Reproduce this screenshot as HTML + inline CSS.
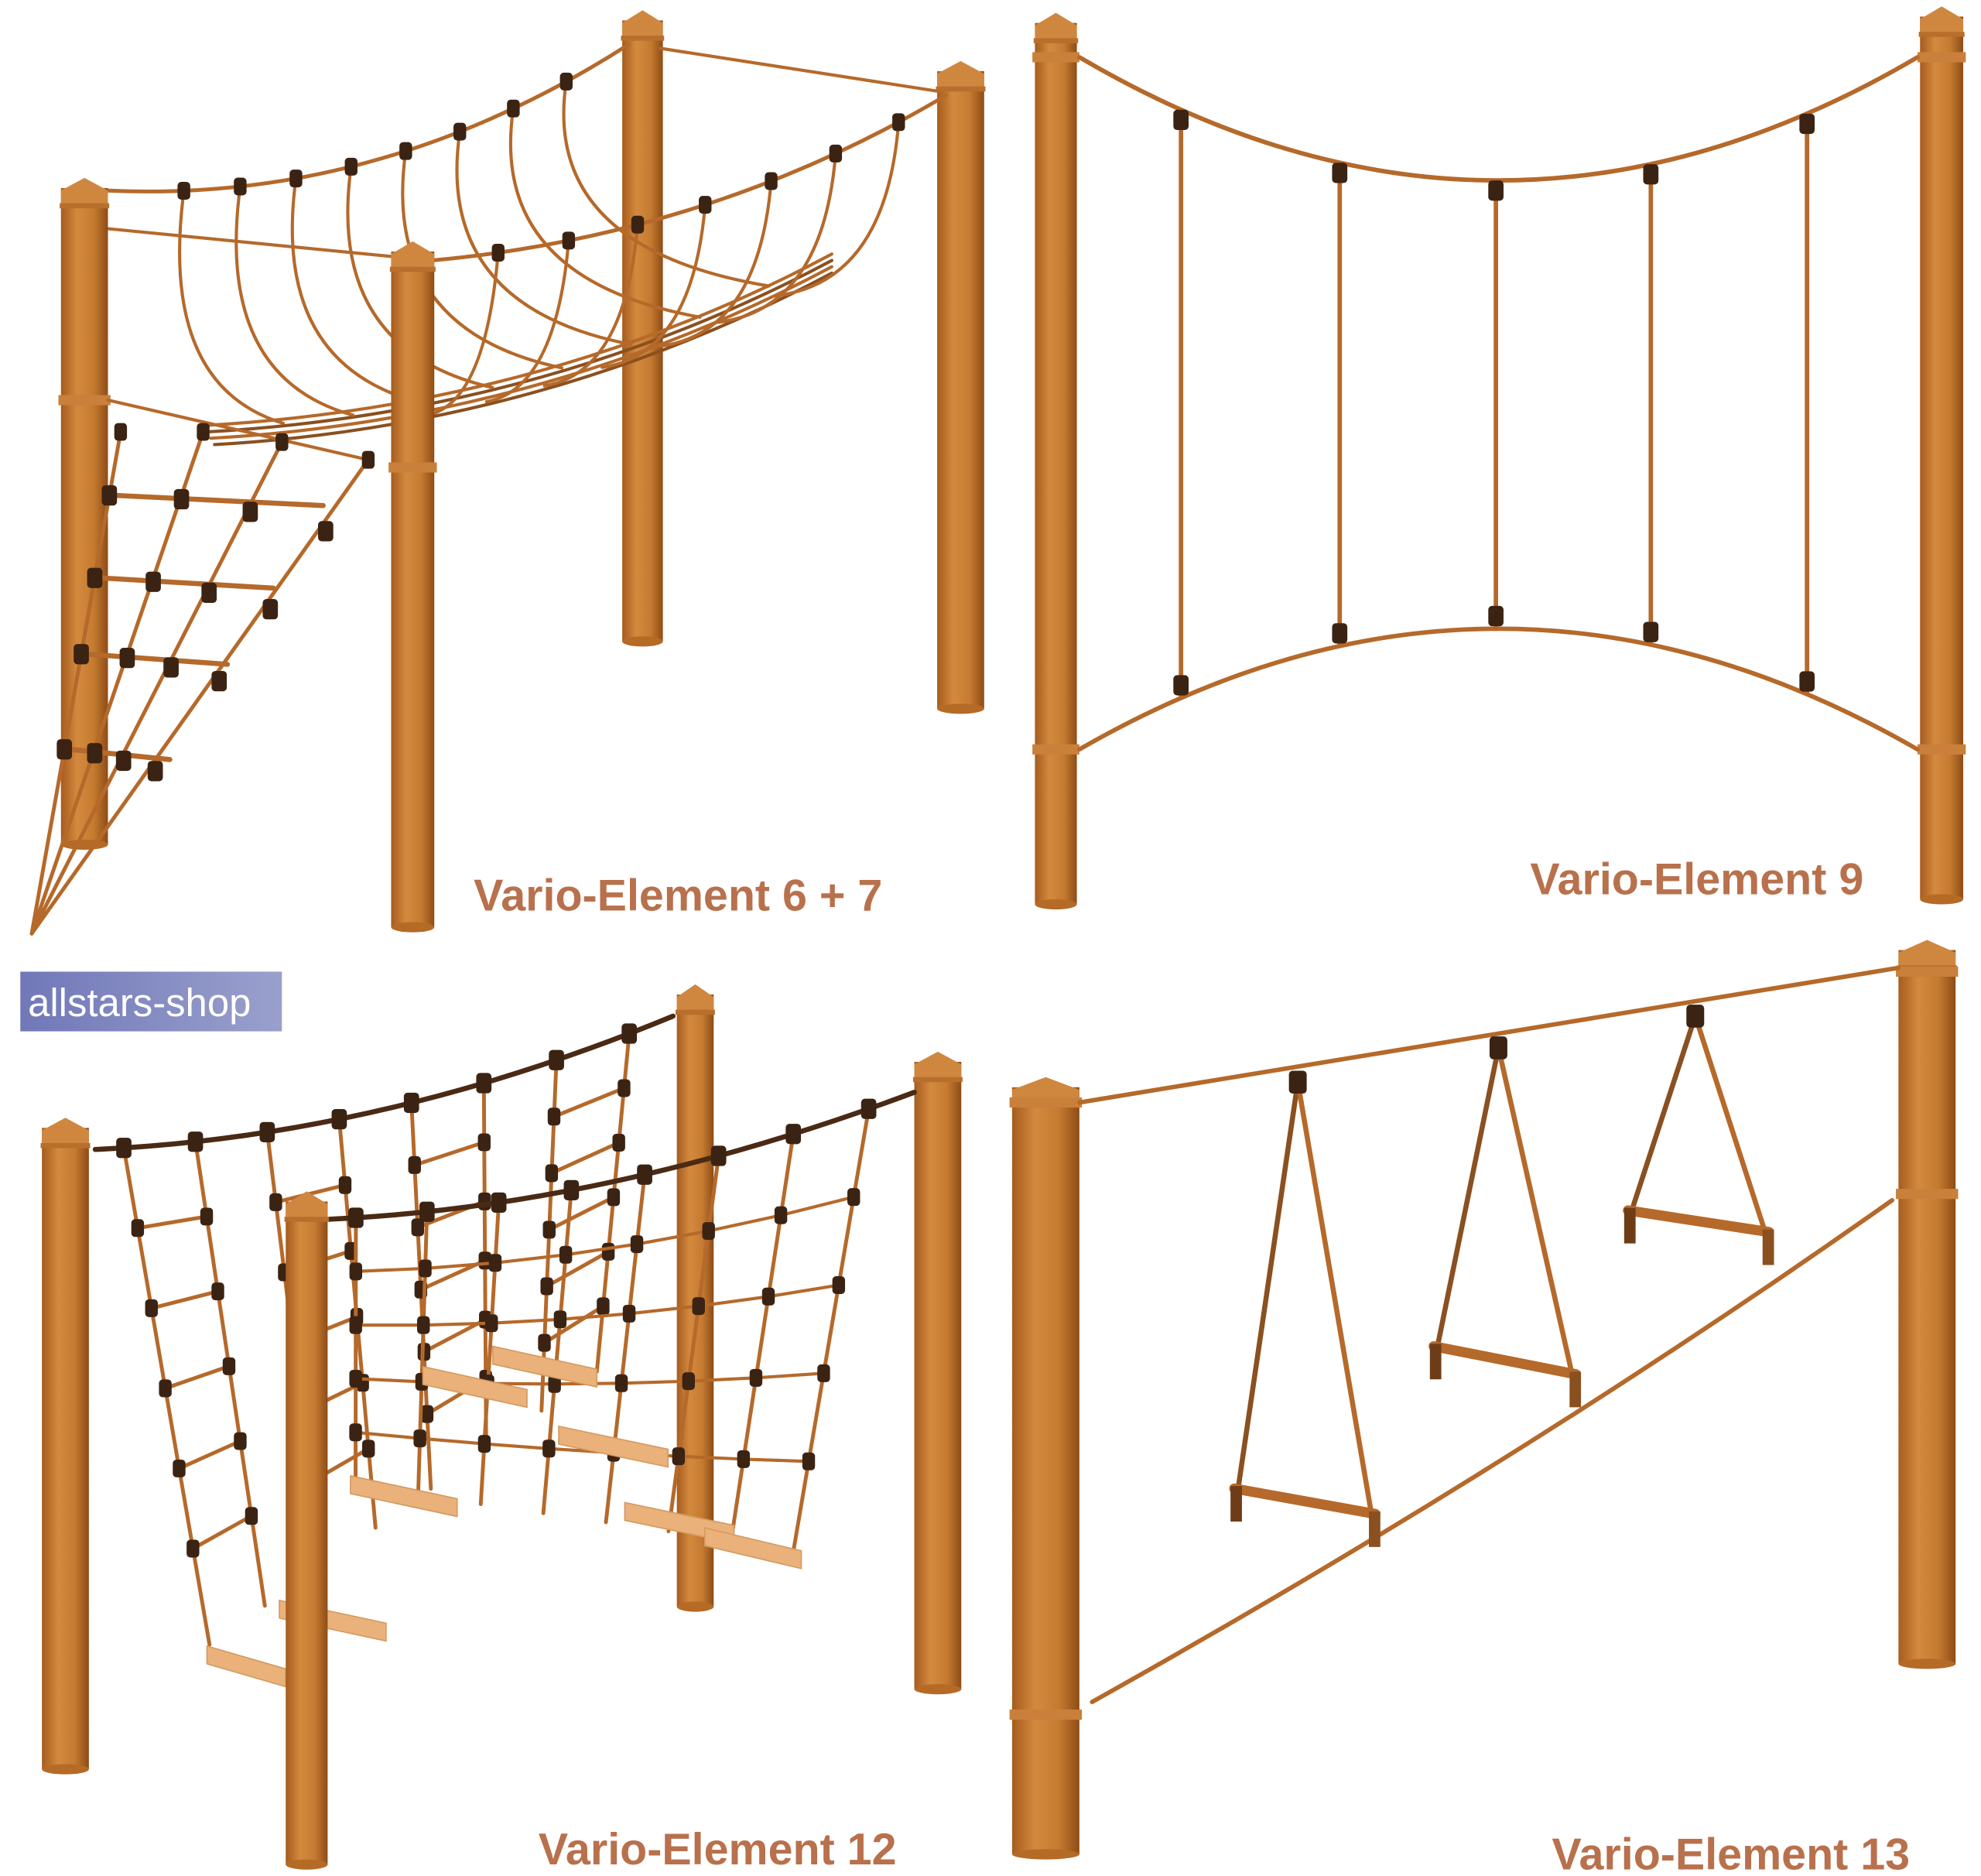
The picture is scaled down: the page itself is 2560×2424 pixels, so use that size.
<!DOCTYPE html>
<html><head><meta charset="utf-8">
<style>
html,body{margin:0;padding:0;background:#fff;}
svg{display:block;}
.lbl{font-family:"Liberation Sans",sans-serif;font-weight:bold;font-size:35px;fill:#b8714c;}
</style></head>
<body>
<svg id="s" width="2560" height="2424" viewBox="0 0 1560 1477" xmlns="http://www.w3.org/2000/svg">
<defs>
<linearGradient id="pg" x1="0" x2="1" y1="0" y2="0">
<stop offset="0" stop-color="#a65c1e"/><stop offset="0.35" stop-color="#d48a3e"/><stop offset="0.7" stop-color="#c47a30"/><stop offset="1" stop-color="#8e4c16"/>
</linearGradient>
<linearGradient id="bx" x1="0" x2="1"><stop offset="0" stop-color="#7078b8"/><stop offset="1" stop-color="#9aa0cc"/></linearGradient>
</defs>
<g id="g"></g>
<rect x="16" y="765" width="206" height="47" fill="url(#bx)"/>
<text x="22" y="800" font-family="Liberation Sans, sans-serif" font-size="31" fill="#fff">allstars-shop</text>
<text class="lbl" x="373" y="717">Vario-Element 6 + 7</text>
<text class="lbl" x="1205" y="704">Vario-Element 9</text>
<text class="lbl" x="424" y="1468">Vario-Element 12</text>
<text class="lbl" x="1222" y="1472">Vario-Element 13</text>
</svg>
<script>
var NS="http://www.w3.org/2000/svg";
var G=document.getElementById('g');
function el(t,a,p){var e=document.createElementNS(NS,t);for(var k in a)e.setAttribute(k,a[k]);(p||G).appendChild(e);return e;}
function post(x1,y1,x2,y2){var w=x2-x1,c=(x1+x2)/2;
 el('rect',{x:x1,y:y1+8,width:w,height:y2-y1-8,fill:'url(#pg)'});
 el('ellipse',{cx:c,cy:y2,rx:w/2,ry:4,fill:'#b56a26'});
 el('path',{d:'M'+x1+' '+(y1+22)+' L'+x1+' '+(y1+10)+' L'+(c)+' '+(y1)+' L'+x2+' '+(y1+10)+' L'+x2+' '+(y1+22)+' Z',fill:'#cf8740'});
 el('rect',{x:x1-1,y:y1+20,width:w+2,height:4,fill:'#b86f2c'});}
function collar(x1,x2,y){el('rect',{x:x1-2,y:y-4,width:x2-x1+4,height:8,fill:'#c9803a'});}
function rope(d,w,c){el('path',{d:d,fill:'none',stroke:c||'#b5692a','stroke-width':w||3,'stroke-linecap':'round'});}
function line(a,b,w,c){rope('M'+a[0]+' '+a[1]+' L'+b[0]+' '+b[1],w,c);}
function knot(p,r){el('rect',{x:p[0]-(r||5),y:p[1]-(r||5)-2,width:2*(r||5),height:2*(r||5)+4,rx:3,fill:'#3b2313'});}
function q(p0,c,p1,t){var u=1-t;return [u*u*p0[0]+2*u*t*c[0]+t*t*p1[0],u*u*p0[1]+2*u*t*c[1]+t*t*p1[1]];}
function lerp(a,b,t){return [a[0]+(b[0]-a[0])*t,a[1]+(b[1]-a[1])*t];}
function Q(p0,c,p1){return 'M'+p0+' Q'+c+' '+p1;}

/* ---------- Panel 1 ---------- */
post(490,8,522,505); post(738,48,775,558);
var A0=[85,150],Ac=[300,160],A1=[495,35];
var C0=[340,205],Cc=[560,185],C1=[745,75];
var D0=[200,335],Dc=[430,320],D1=[655,200];
rope(Q(A0,Ac,A1),3); rope(Q(C0,Cc,C1),3);
line([85,180],[340,205],2.5); line([520,38],[740,72],2.5);
for(var k=0;k<4;k++){rope(Q([D0[0]-40+k*3,D0[1]+k*5],[Dc[0],Dc[1]+k*5],[D1[0],D1[1]+k*5]),2.5,k%2?'#8a5020':'#b5692a');}
for(var i=0;i<8;i++){var t=0.14+i*0.105;var p=q(A0,Ac,A1,t);var d=q(D0,Dc,D1,0.05+i*0.12);
 rope(Q(p,[p[0]-20,d[1]-30],d),2.5); knot(p,5);}
for(var i=0;i<7;i++){var t=0.12+i*0.13;var p=q(C0,Cc,C1,t);var d=q(D0,Dc,D1,0.3+i*0.1);
 rope(Q(p,[p[0]-10,d[1]],[d[0],d[1]+10]),2.5); knot(p,5);}
post(48,140,85,665); collar(48,85,315);
var T=[[95,340],[160,340],[222,348],[290,362]],B=[25,735];
line([85,315],[290,362],2.5);
for(var i=0;i<4;i++){line(T[i],B,3);knot(T[i],5);}
var ys=[390,455,515,590];
for(var j=0;j<4;j++){var s=(ys[j]-340)/(735-340);var L=lerp(T[0],B,s),R=lerp(T[3],B,s*0.9+0.02);
 line([L[0]+5,ys[j]],[R[0],ys[j]+8],4);
 for(var i=0;i<4;i++){var P=lerp(T[i],B,s);knot([P[0],P[1]+i*3],6);}}
post(308,190,342,730); collar(308,342,368);

/* ---------- Panel 2 ---------- */
post(815,10,848,712); post(1512,5,1546,708);
collar(815,848,45); collar(1512,1546,45); collar(815,848,590); collar(1512,1546,590);
var T0=[850,45],Tc=[1180,239],T1=[1510,45],B0=[850,590],Bc=[1180,400],B1=[1510,590];
rope(Q(T0,Tc,T1),3.5); rope(Q(B0,Bc,B1),3.5);
var xs=[930,1055,1178,1300,1423];
xs.forEach(function(x){var t=(x-850)/660;var a=q(T0,Tc,T1,t),b=q(B0,Bc,B1,t);line(a,b,3.5);knot([a[0],a[1]+8],6);knot([b[0],b[1]-10],6);});

/* ---------- Panel 3 ---------- */
post(533,775,562,1265); post(720,828,757,1330);
var N0=[75,905],Nc=[300,895],N1=[530,800];
rope(Q(N0,Nc,N1),4,'#4a2a14');
var NB0=[165,1295],NB1=[470,1080];
for(var i=0;i<8;i++){var t=0.05+i*0.125;var a=q(N0,Nc,N1,t);var b=lerp(NB0,NB1,i/7);line(a,b,3);knot(a,6);}
for(var j=1;j<6;j++){var s=j/6.2;var pts=[];for(var i=0;i<8;i++){var t=0.05+i*0.125;pts.push(lerp(q(N0,Nc,N1,t),lerp(NB0,NB1,i/7),s));}
 for(var i=0;i<7;i+=2){line(pts[i],pts[i+1],3);}for(var i=0;i<8;i++)knot(pts[i],5);}
post(33,880,70,1393);
var M0=[258,960],Mc=[480,950],M1=[720,860];
rope(Q(M0,Mc,M1),4,'#4a2a14');
var MB0=[280,1170],MB1=[625,1220];
for(var i=0;i<8;i++){var t=0.05+i*0.125;var a=q(M0,Mc,M1,t);var b=lerp(MB0,MB1,i/7);line(a,b,3);knot(a,6);}
for(var j=1;j<5;j++){var s=j/5;var pts=[];for(var i=0;i<8;i++){var t=0.05+i*0.125;pts.push(lerp(q(M0,Mc,M1,t),lerp(MB0,MB1,i/7),s));}
 for(var i=0;i<7;i++){line(pts[i],pts[i+1],2.5);}for(var i=0;i<8;i++)knot(pts[i],5);}
function board(x,y,l){el('path',{d:'M'+x+' '+y+' l'+l+' 18 l0 14 l-'+l+' -18 Z',fill:'#eab27a',stroke:'#d49a60','stroke-width':1});}
board(163,1296,62); board(220,1260,84); board(276,1162,84); board(333,1076,82); board(388,1060,82); board(440,1123,86); board(492,1183,86); board(555,1203,76);
post(225,938,258,1468);

/* ---------- Panel 4 ---------- */
post(797,848,850,1460); post(1495,740,1540,1310);
collar(797,850,868); collar(797,850,1350); collar(1495,1540,765); collar(1495,1540,940);
line([850,868],[1495,762],3.5);
rope(Q([860,1340],[1200,1150],[1490,945]),3.5);
function swing(tx,ty,l,r){line([tx,ty],l,4,'#8a5020');line([tx,ty],r,4,'#b5692a');knot([tx,ty],7);
 line([l[0]-3,l[1]],[r[0]+3,r[1]],8,'#b5692a');
 el('rect',{x:l[0]-6,y:l[1]-2,width:9,height:28,fill:'#6e3d18'});el('rect',{x:r[0]-2,y:r[1]-2,width:9,height:28,fill:'#8a5020'});}
swing(1022,852,[975,1172],[1080,1192]); swing(1180,825,[1132,1060],[1238,1082]); swing(1335,800,[1285,953],[1390,970]);
</script>
</body></html>
